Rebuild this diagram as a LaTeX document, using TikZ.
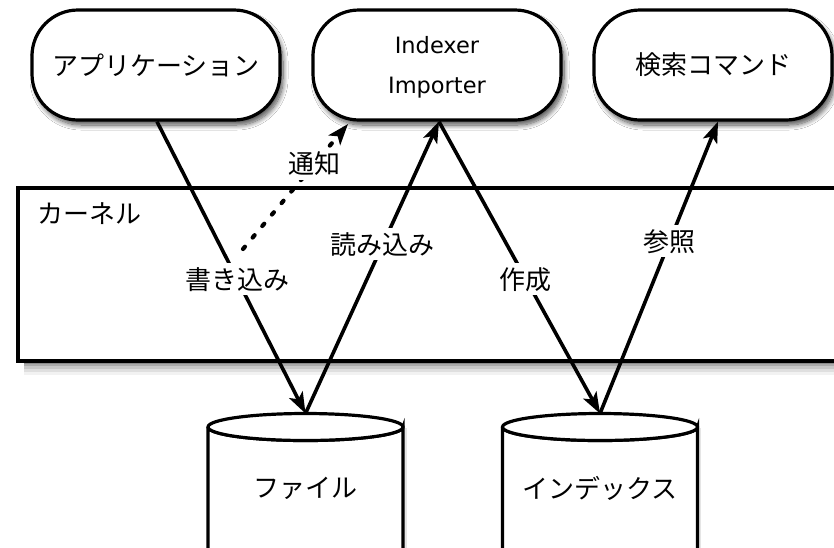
\documentclass[tikz,border=0pt]{standalone}
\usepackage{fontspec}
\setmainfont{DejaVu Sans}
\newfontfamily\jpfont{Noto Sans CJK JP}
\usetikzlibrary{arrows.meta,shadows.blur}

\tikzset{
  procbox/.style={draw=black, line width=3.2pt, fill=white, rounded corners=46pt,
    minimum width=248pt, minimum height=110pt, inner sep=0pt,
    blur shadow={shadow xshift=3pt, shadow yshift=-5pt, shadow blur steps=10, shadow blur radius=5pt, shadow opacity=70}},
  jp/.style={font=\jpfont\fontsize{26}{29}\selectfont},
  lat/.style={font=\fontsize{22.5}{43}\selectfont, align=center},
  flow/.style={line width=3.6pt, -{Stealth[length=21pt,width=15pt,inset=5pt]}},
  notice/.style={flow, dash pattern=on 3pt off 12pt, line cap=round, line width=4.2pt},
  tag/.style={jp, fill=white, inner sep=4pt},
  cyl/.style={draw=black, line width=3.2pt, fill=white},
}

\begin{document}
\begin{tikzpicture}[x=1pt, y=-1pt]
  \useasboundingbox[fill=white] (0,0) rectangle (834,547);

  % kernel region (extends past the right edge), with a soft shadow under it
  \foreach \d/\o in {14/0.05, 11/0.08, 8/0.10, 5/0.14, 3/0.18} {
    \fill[black, opacity=\o] (24,361) rectangle (860,361+\d);
  }
  \draw[line width=3.2pt, fill=white] (18,188) rectangle (860,361);
  \node[jp, anchor=west] (kernel) at (34,214) {カーネル};

  % processes
  \node[procbox, jp] (app) at (156,65) {アプリケーション};
  \node[procbox, lat, text depth=0pt] (idx) at (437,65) {\raisebox{-3pt}{Indexer}\\Importer};
  \node[procbox, jp, minimum width=238pt] (srch) at (713,65) {検索コマンド};

  % storage cylinders
  \foreach \cx/\nm in {305.5/filetop, 600/indextop} {
    \fill[black, opacity=0.10] (\cx-94,428) rectangle (\cx+101,560);
    \draw[cyl] (\cx-97.5,427) -- (\cx-97.5,560) -- (\cx+97.5,560) -- (\cx+97.5,427)
      arc[start angle=0, end angle=-180, x radius=97.5pt, y radius=13.5pt];
    \draw[cyl] (\cx,427) ellipse[x radius=97.5pt, y radius=13.5pt];
    \coordinate (\nm) at (\cx,413.5);
  }
  \node[jp] (file) at (305.5,488) {ファイル};
  \node[jp] (index) at (600,488) {インデックス};

  % data flow
  \coordinate (notestart) at (243,249);
  \coordinate (notetip) at (348,124);
  \draw[flow] (app.south -| 157,0) -- node[tag, pos=0.54] {書き込み} (filetop);
  \draw[flow] (filetop) -- node[tag, pos=0.58] {読み込み} ([xshift=2pt]idx.south);
  \draw[flow] ([xshift=2pt]idx.south) -- node[tag, pos=0.54] {作成} (indextop);
  \draw[flow] (indextop) -- node[tag, pos=0.59] {参照} ([xshift=5pt]srch.south);
  \draw[notice] (notestart) -- node[tag, pos=0.68] {通知} (notetip);
\end{tikzpicture}
\end{document}
